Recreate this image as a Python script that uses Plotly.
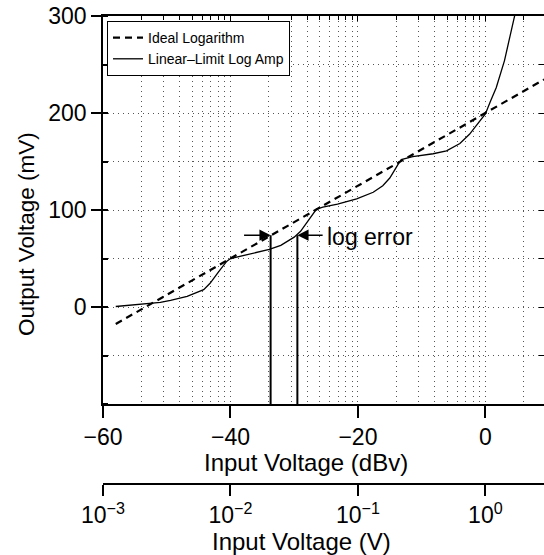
import plotly.graph_objects as go

# ---------------- data ----------------
# Ideal logarithm (input in dBV, output in mV)
ideal_x = [-58.0, 9.2]
ideal_y = [-17.5, 234.5]

# Linear-limit log amp response
amp_x = [-58.0, -55.5, -53.6, -51.0, -49.4, -46.8, -44.2, -43.2, -41.9, -40.6,
         -40.0, -39.0, -37.3, -36.4, -33.9, -32.1, -30.0, -29.0, -28.1, -27.2,
         -26.5, -25.5, -23.2, -20.2, -17.6, -16.1, -15.0, -13.7, -13.2, -11.4,
         -8.2, -6.1, -4.0, -2.5, -1.0, 0.0, 0.8, 1.7, 3.0, 3.8, 4.6, 5.0]
amp_y = [0.5, 1.8, 2.8, 4.8, 6.9, 11.0, 17.9, 24.4, 36.0, 47.0,
         50.0, 51.5, 54.0, 55.2, 59.3, 63.5, 72.0, 78.0, 86.0, 94.0,
         101.0, 103.0, 106.0, 111.5, 118.3, 125.0, 133.0, 147.0, 152.0, 155.0,
         158.0, 161.0, 168.5, 178.0, 190.0, 199.0, 212.0, 226.0, 254.0, 278.0, 300.0, 312.0]

# "log error" annotation
err_x = [-33.7, -29.5]          # arrow tips / vertical markers (dBV)
err_tail = [-38.1, -25.3]       # arrow tails (dBV)
err_y = 74.0                    # level of the arrows (mV)
err_label = "log error"

# axes
x_range = [-60, 9.2]
x_ticks = [-60, -40, -20, 0]
y_range = [-100, 300]
y_ticks = [0, 100, 200, 300]
v_ticks = [1e-3, 1e-2, 1e-1, 1]
v_text = ["10<sup>−3</sup>", "10<sup>−2</sup>", "10<sup>−1</sup>", "10<sup>0</sup>"]
v_range = [-3, 9.2 / 20]        # log10 of volts spanning the same window as x_range

x_title = "Input Voltage (dBv)"
v_title = "Input Voltage (V)"
y_title = "Output Voltage (mV)"

# ---------------- figure ----------------
W, H = 544, 555
ml, mr, mt, mb = 103, 0, 16, 0
pw = W - ml - mr
ph = H - mt - mb
ydom0 = (H - mb - 404) / ph
x2pos = (H - mb - 484) / ph


def px_x(p):
    return (p - ml) / pw


def px_y(p):
    return (H - mb - p) / ph


FONT = "Liberation Sans, Arial, Helvetica, sans-serif"
GRID = "#555555"
GDASH = "1px,4px"

fig = go.Figure()

fig.add_trace(go.Scatter(x=ideal_x, y=ideal_y, mode="lines", name="Ideal Logarithm",
                         line=dict(color="black", width=2.2, dash="7px,5px")))
fig.add_trace(go.Scatter(x=amp_x, y=amp_y, mode="lines", name="Linear–Limit Log Amp",
                         line=dict(color="black", width=1.3)))

# vertical markers of the log error
fig.add_trace(go.Scatter(x=[err_x[0], err_x[0], None, err_x[1], err_x[1]],
                         y=[err_y, y_range[0], None, err_y, y_range[0]],
                         mode="lines", line=dict(color="black", width=2),
                         showlegend=False, hoverinfo="skip"))

# helper (invisible) traces to bind the extra axes
fig.add_trace(go.Scatter(x=[10 ** v_range[0], 10 ** v_range[1]], y=[y_range[0], y_range[0]],
                         xaxis="x2", yaxis="y", mode="lines", line=dict(width=0),
                         showlegend=False, hoverinfo="skip"))
fig.add_trace(go.Scatter(x=[10 ** v_range[0], 10 ** v_range[1]], y=[y_range[0], y_range[0]],
                         xaxis="x3", yaxis="y", mode="lines", line=dict(width=0),
                         showlegend=False, hoverinfo="skip"))
fig.add_trace(go.Scatter(x=x_range, y=[y_range[0], y_range[0]],
                         xaxis="x", yaxis="y2", mode="lines", line=dict(width=0),
                         showlegend=False, hoverinfo="skip"))

for tip, tail in zip(err_x, err_tail):
    fig.add_annotation(x=tip, y=err_y, ax=tail, ay=err_y, axref="x", ayref="y",
                       xref="x", yref="y", text="", showarrow=True,
                       arrowhead=2, arrowsize=1.4, arrowwidth=1.6, arrowcolor="black")
fig.add_annotation(x=err_tail[1] + 0.1, y=err_y - 2, xref="x", yref="y", text=err_label,
                   showarrow=False, xanchor="left", yanchor="middle",
                   font=dict(size=23, color="black", family=FONT))

# axis titles placed where the reference has them
fig.add_annotation(x=px_x(306), y=px_y(462), xref="paper", yref="paper", text=x_title,
                   showarrow=False, xanchor="center", yanchor="middle",
                   font=dict(size=24, color="black", family=FONT))
fig.add_annotation(x=px_x(301), y=px_y(541), xref="paper", yref="paper", text=v_title,
                   showarrow=False, xanchor="center", yanchor="middle",
                   font=dict(size=24, color="black", family=FONT))
fig.add_annotation(x=px_x(26), y=px_y(234), xref="paper", yref="paper", text=y_title,
                   showarrow=False, xanchor="center", yanchor="middle", textangle=-90,
                   font=dict(size=22.5, color="black", family=FONT))

fig.update_layout(
    width=W, height=H,
    margin=dict(l=ml, r=mr, t=mt, b=mb, autoexpand=False),
    paper_bgcolor="white", plot_bgcolor="white",
    font=dict(family=FONT, size=23, color="black"),
    showlegend=True,
    legend=dict(x=px_x(107), y=px_y(21), xanchor="left", yanchor="top",
                bordercolor="black", borderwidth=1, bgcolor="white",
                font=dict(size=14, family=FONT), tracegroupgap=0,
                itemwidth=30),
    xaxis=dict(
        range=x_range, domain=[0, 1], anchor="y",
        tickmode="array", tickvals=x_ticks,
        ticks="outside", ticklen=12, tickwidth=1.5, tickcolor="black",
        showline=True, linecolor="black", linewidth=1.5,
        showgrid=False, zeroline=False,
        tickfont=dict(size=23),
    ),
    xaxis2=dict(
        type="log", range=v_range, overlaying="x", anchor="free", position=x2pos,
        side="bottom",
        tickmode="array", tickvals=v_ticks, ticktext=v_text,
        ticks="outside", ticklen=11, tickwidth=1.5, tickcolor="black",
        showline=True, linecolor="black", linewidth=1.5,
        showgrid=True, gridcolor=GRID, griddash=GDASH, gridwidth=1,
        minor=dict(dtick="D1", ticks="", showgrid=True, gridcolor=GRID,
                   griddash=GDASH, gridwidth=1),
        zeroline=False,
        tickfont=dict(size=23),
    ),
    xaxis3=dict(
        type="log", range=v_range, overlaying="x", anchor="y", side="top",
        tickmode="array", tickvals=v_ticks, showticklabels=False,
        ticks="inside", ticklen=5, tickcolor="black",
        minor=dict(dtick="D1", ticks="inside", ticklen=4, tickcolor="black", showgrid=False),
        showline=True, linecolor="black", linewidth=1.5,
        showgrid=False, zeroline=False,
    ),
    yaxis=dict(
        range=y_range, domain=[ydom0, 1], anchor="x",
        tickmode="array", tickvals=y_ticks,
        ticks="outside", ticklen=10, tickwidth=1.5, tickcolor="black",
        showline=True, linecolor="black", linewidth=1.5,
        showgrid=True, gridcolor=GRID, griddash=GDASH, gridwidth=1,
        minor=dict(dtick=50, ticks="inside", ticklen=5, tickcolor="black",
                   showgrid=True, gridcolor=GRID, griddash=GDASH, gridwidth=1),
        zeroline=False,
        tickfont=dict(size=23),
    ),
    yaxis2=dict(
        range=y_range, overlaying="y", anchor="x", side="right",
        dtick=50, tick0=0, showticklabels=False,
        ticks="inside", ticklen=5, tickcolor="black",
        showline=False, showgrid=False, zeroline=False,
    ),
)

fig.write_html("out.html")
